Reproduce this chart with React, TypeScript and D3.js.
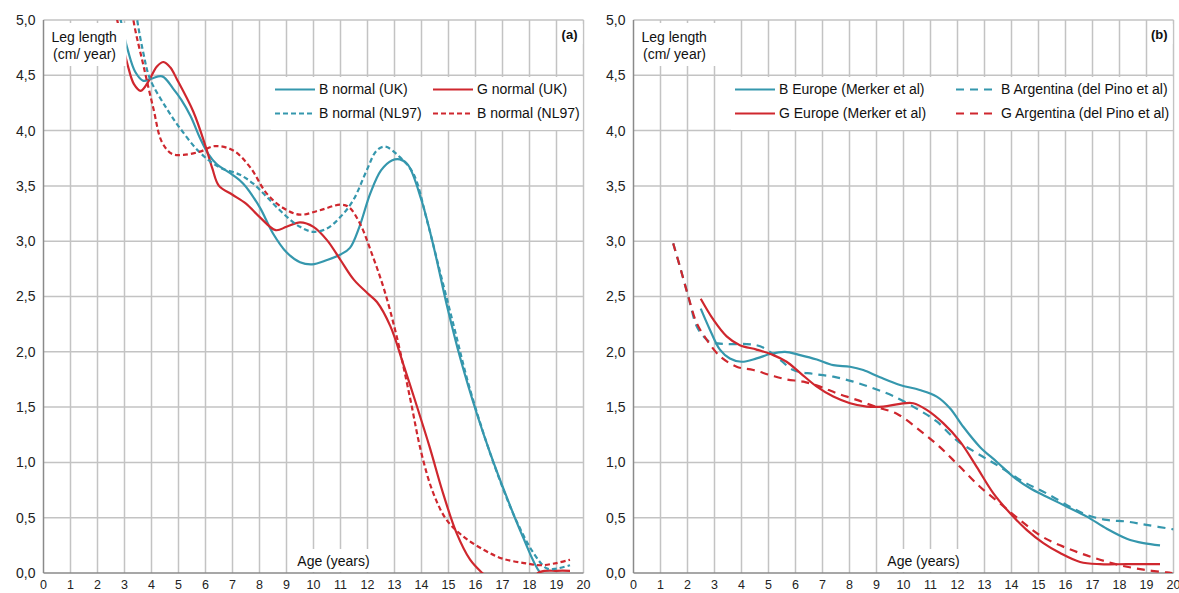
import React from 'react';
import * as d3 from 'd3';

// ---- data (age in years, leg length velocity in cm/year) ----
const ageTicks = d3.range(0, 21);
const valueTicks = d3.range(0, 5.01, 0.5);

const panelALabels = ['B normal (UK)', 'G normal (UK)', 'B normal (NL97)', 'B normal (NL97)'];
const panelBLabels = ['B Europe (Merker et al)', 'B Argentina (del Pino et al)', 'G Europe (Merker et al)', 'G Argentina (del Pino et al)'];

const bNormalUK: [number, number][] = [
  [2.6, 5.35], [2.86, 5.0], [3.12, 4.73], [3.4, 4.53], [3.7, 4.45], [4.0, 4.47], [4.4, 4.49],
  [4.8, 4.38], [5.1, 4.28], [5.45, 4.13], [5.8, 3.93], [6.1, 3.79], [6.4, 3.7], [7.0, 3.6], [7.4, 3.52],
  [8.0, 3.31], [8.5, 3.07], [9.0, 2.9], [9.5, 2.81], [9.95, 2.79], [10.5, 2.83], [11.0, 2.88],
  [11.35, 2.94], [11.7, 3.13], [12.1, 3.43], [12.5, 3.64], [12.9, 3.73], [13.2, 3.74], [13.5, 3.69],
  [14.0, 3.37], [14.45, 2.95], [14.95, 2.41], [15.45, 1.93], [16.05, 1.44], [16.55, 1.08],
  [17.15, 0.69], [17.75, 0.33], [18.4, 0.0], [19.0, -0.12], [19.5, -0.12],
];

const gNormalUK: [number, number][] = [
  [2.5, 5.4], [2.73, 5.0], [3.12, 4.59], [3.35, 4.42], [3.6, 4.36], [3.9, 4.45], [4.2, 4.58],
  [4.45, 4.62], [4.7, 4.57], [4.95, 4.46], [5.55, 4.17], [6.0, 3.86], [6.25, 3.66], [6.5, 3.5],
  [7.0, 3.42], [7.5, 3.34], [8.0, 3.22], [8.6, 3.1], [9.0, 3.13], [9.5, 3.17], [10.0, 3.13],
  [10.5, 3.01], [11.0, 2.83], [11.5, 2.65], [12.0, 2.53], [12.35, 2.45], [12.85, 2.23],
  [13.35, 1.87], [13.8, 1.53], [14.3, 1.14], [14.8, 0.72], [15.3, 0.36], [15.8, 0.12],
  [16.25, 0.0], [17.0, -0.15], [17.8, -0.1], [18.4, 0.01], [19.0, 0.02], [19.5, 0.02],
];

const bNormalNL97: [number, number][] = [
  [3.2, 5.5], [3.47, 5.0], [3.7, 4.7], [3.94, 4.47], [4.56, 4.2], [5.06, 4.02], [5.8, 3.8],
  [6.5, 3.67], [7.28, 3.6], [7.77, 3.52], [8.27, 3.4], [8.88, 3.25], [9.5, 3.13], [10.0, 3.085],
  [10.5, 3.115], [11.0, 3.22], [11.47, 3.37], [11.97, 3.64], [12.34, 3.82], [12.65, 3.855],
  [13.2, 3.76], [13.7, 3.61], [14.2, 3.19], [14.7, 2.71], [15.2, 2.23], [15.7, 1.745],
  [16.3, 1.26], [16.9, 0.84], [17.5, 0.48], [18.15, 0.18], [18.65, 0.04], [19.0, 0.04], [19.5, 0.07],
];

const gNormalNL97: [number, number][] = [
  [3.1, 5.5], [3.33, 5.0], [3.7, 4.59], [4.07, 4.2], [4.38, 3.9], [4.75, 3.79], [5.18, 3.78],
  [5.8, 3.81], [6.35, 3.86], [7.03, 3.82], [7.65, 3.67], [8.27, 3.43], [8.88, 3.3], [9.5, 3.24],
  [10.24, 3.28], [10.98, 3.33], [11.3, 3.31], [11.72, 3.16], [12.2, 2.86], [12.62, 2.56],
  [13.08, 2.14], [13.57, 1.59], [14.0, 1.08], [14.44, 0.72], [14.93, 0.48], [15.55, 0.33],
  [16.3, 0.21], [17.0, 0.13], [17.8, 0.09], [18.4, 0.07], [19.0, 0.09], [19.5, 0.12],
];

const bEurope: [number, number][] = [
  [2.49, 2.39], [2.83, 2.2], [3.2, 2.02], [3.57, 1.94], [4.0, 1.91], [4.56, 1.94], [5.06, 1.98],
  [5.61, 2.0], [6.17, 1.97], [6.79, 1.93], [7.4, 1.88], [8.02, 1.865], [8.51, 1.835], [9.13, 1.77],
  [9.87, 1.7], [10.6, 1.655], [11.23, 1.595], [11.72, 1.49], [12.22, 1.32], [12.83, 1.14],
  [13.45, 1.006], [14.07, 0.87], [14.69, 0.766], [15.3, 0.69], [16.05, 0.6], [16.79, 0.51],
  [17.53, 0.4], [18.27, 0.31], [18.89, 0.27], [19.5, 0.25],
];

const gEurope: [number, number][] = [
  [2.49, 2.48], [2.96, 2.29], [3.45, 2.14], [3.94, 2.06], [4.56, 2.02], [5.18, 1.97], [5.67, 1.91],
  [6.17, 1.81], [6.79, 1.685], [7.4, 1.595], [8.02, 1.535], [8.64, 1.505], [9.25, 1.505],
  [9.87, 1.53], [10.36, 1.535], [10.86, 1.475], [11.47, 1.355], [12.09, 1.19], [12.71, 0.96],
  [13.33, 0.72], [13.95, 0.54], [14.56, 0.39], [15.18, 0.27], [15.8, 0.18], [16.54, 0.1],
  [17.28, 0.08], [18.27, 0.08], [19.5, 0.08],
];

const bArgentina: [number, number][] = [
  [1.47, 2.98], [1.72, 2.77], [2.03, 2.5], [2.34, 2.23], [2.59, 2.14], [2.83, 2.09], [3.45, 2.07],
  [4.2, 2.07], [4.69, 2.05], [5.3, 1.955], [5.92, 1.835], [6.66, 1.8], [7.4, 1.775], [8.14, 1.73],
  [8.88, 1.67], [9.62, 1.6], [10.6, 1.47], [11.23, 1.37], [11.97, 1.2], [12.83, 1.067],
  [13.57, 0.96], [14.44, 0.825], [15.3, 0.72], [16.16, 0.6], [16.79, 0.525], [17.53, 0.48],
  [18.27, 0.465], [19.0, 0.435], [20.0, 0.395],
];

const gArgentina: [number, number][] = [
  [1.47, 2.98], [1.72, 2.77], [2.03, 2.5], [2.34, 2.26], [2.71, 2.11], [3.2, 1.96], [3.82, 1.865],
  [4.44, 1.835], [5.06, 1.79], [5.67, 1.75], [6.29, 1.73], [6.91, 1.685], [7.53, 1.625],
  [8.27, 1.565], [9.0, 1.5], [9.75, 1.44], [10.6, 1.29], [11.34, 1.14], [12.09, 0.96],
  [12.83, 0.78], [13.57, 0.63], [14.31, 0.48], [15.06, 0.34], [15.8, 0.25], [16.54, 0.18],
  [17.28, 0.12], [18.02, 0.07], [18.89, 0.03], [19.75, 0.005], [19.95, 0.0],
];

// ---- styles ----
const TEAL = '#3597ad';
const RED = '#cf272e';
const GRID = '#c3c3c3';
const AXIS = '#8a8a8a';
const FONT = "'Liberation Sans', Arial, sans-serif";

const W = 1179;
const H = 593;
const TOP = 20;
const BOTTOM = 573;
const PW = 540;

const commaFmt = (v: number) => d3.format('.1f')(v).replace('.', ',');

type Series = { data: [number, number][]; color: string; dash?: string; label: string };

const Panel = ({ id, x0, tag, series, legendCols }: {
  id: string; x0: number; tag: string; series: Series[];
  legendCols: { lineX: number; textX: number }[];
}) => {
  const x = d3.scaleLinear().domain([0, 20]).range([x0, x0 + PW]);
  const y = d3.scaleLinear().domain([0, 5]).range([BOTTOM, TOP]);
  const line = d3.line<[number, number]>()
    .x(d => x(d[0]))
    .y(d => y(d[1]))
    .curve(d3.curveCatmullRom.alpha(0.5));

  return (
    <g>
      <defs>
        <clipPath id={`clip-${id}`}>
          <rect x={x0} y={TOP} width={PW} height={BOTTOM - TOP} />
        </clipPath>
      </defs>
      {/* grid */}
      {ageTicks.slice(1).map(t => (
        <line key={`v${t}`} x1={x(t)} x2={x(t)} y1={TOP} y2={BOTTOM} stroke={GRID} strokeWidth={1.5} />
      ))}
      {valueTicks.slice(1).map(t => (
        <line key={`h${t}`} x1={x0} x2={x0 + PW} y1={y(t)} y2={y(t)} stroke={GRID} strokeWidth={1.5} />
      ))}
      {/* axes */}
      <line x1={x0} x2={x0} y1={TOP} y2={BOTTOM} stroke={AXIS} strokeWidth={1.5} />
      <line x1={x0} x2={x0 + PW} y1={BOTTOM} y2={BOTTOM} stroke={AXIS} strokeWidth={1.5} />
      {valueTicks.map(t => (
        <text key={`yl${t}`} x={x0 - 8} y={y(t)} dy="0.35em" textAnchor="end"
          fontFamily={FONT} fontSize={14} fill="#222">{commaFmt(t)}</text>
      ))}
      {ageTicks.map(t => (
        <text key={`xl${t}`} x={x(t)} y={BOTTOM + 15.5} textAnchor="middle"
          fontFamily={FONT} fontSize={12.5} fill="#222">{t}</text>
      ))}
      {/* curves */}
      <g clipPath={`url(#clip-${id})`}>
        {series.map((s, i) => (
          <path key={i} d={line(s.data) || ''} fill="none" stroke={s.color} strokeWidth={2.2}
            strokeDasharray={s.dash} />
        ))}
      </g>
      {/* y title */}
      <rect x={x0 + 3} y={TOP + 3} width={80} height={43} fill="#fff" />
      <text x={x0 + 8} y={42} fontFamily={FONT} fontSize={14} fill="#111">Leg length</text>
      <text x={x0 + 9.5} y={59} fontFamily={FONT} fontSize={14} fill="#111">(cm/ year)</text>
      {/* panel tag */}
      <rect x={x(19) + 2} y={TOP + 4} width={24} height={20} fill="#fff" />
      <text x={x(20) - 6} y={39} textAnchor="end" fontFamily={FONT} fontSize={13} fontWeight="bold" fill="#111">{tag}</text>
      {/* x title */}
      <rect x={x(9.25)} y={549} width={76} height={BOTTOM - 550} fill="#fff" />
      <text x={x(9.4)} y={566} fontFamily={FONT} fontSize={14} fill="#111">Age (years)</text>
      {/* legend */}
      <rect x={legendCols[0].lineX - 4} y={77} width={x0 + PW - 1 - (legendCols[0].lineX - 4)} height={53} fill="#fff" />
      {series.map((s, i) => {
        const col = legendCols[i % 2];
        const ly = i < 2 ? 89.5 : 113.5;
        return (
          <g key={`lg${i}`}>
            <line x1={col.lineX} x2={col.lineX + 40} y1={ly} y2={ly} stroke={s.color} strokeWidth={2.2}
              strokeDasharray={s.dash} />
            <text x={col.textX} y={ly} dy="0.35em" fontFamily={FONT} fontSize={14} fill="#111">{s.label}</text>
          </g>
        );
      })}
    </g>
  );
};

const App = () => {
  const seriesA: Series[] = [
    { data: bNormalUK, color: TEAL, label: panelALabels[0] },
    { data: gNormalUK, color: RED, label: panelALabels[1] },
    { data: bNormalNL97, color: TEAL, dash: '5,3', label: panelALabels[2] },
    { data: gNormalNL97, color: RED, dash: '5,3', label: panelALabels[3] },
  ];
  const seriesB: Series[] = [
    { data: bEurope, color: TEAL, label: panelBLabels[0] },
    { data: bArgentina, color: TEAL, dash: '8,6', label: panelBLabels[1] },
    { data: gEurope, color: RED, label: panelBLabels[2] },
    { data: gArgentina, color: RED, dash: '8,6', label: panelBLabels[3] },
  ];
  return (
    <svg width={W} height={H} style={{ position: 'absolute', left: 0, top: 0, background: '#fff' }}>
      <rect width={W} height={H} fill="#fff" />
      <Panel id="a" x0={43.5} tag="(a)" series={seriesA}
        legendCols={[{ lineX: 275, textX: 319 }, { lineX: 433, textX: 477 }]} />
      <Panel id="b" x0={633.5} tag="(b)" series={seriesB}
        legendCols={[{ lineX: 735, textX: 779 }, { lineX: 956, textX: 1001 }]} />
    </svg>
  );
};

export default App;
